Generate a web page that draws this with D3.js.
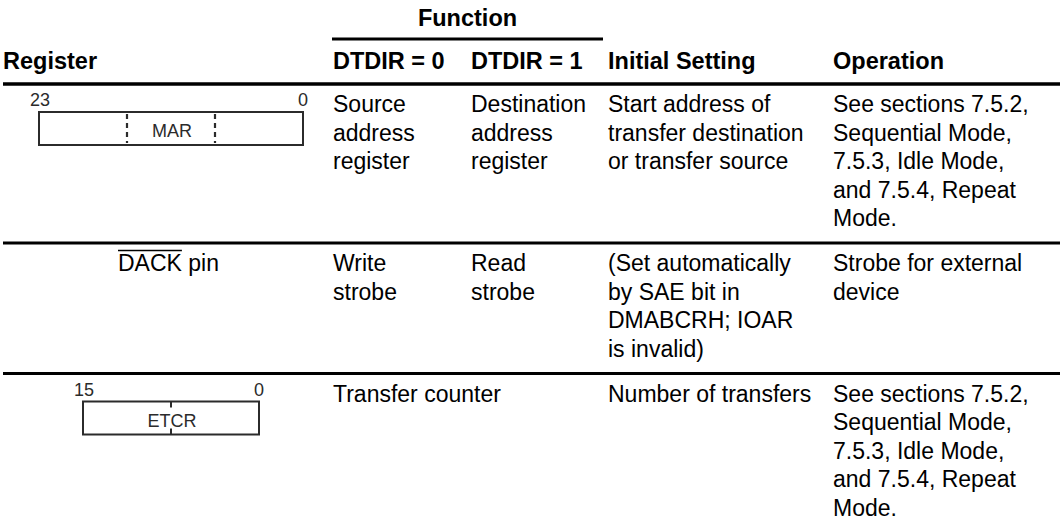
<!DOCTYPE html>
<html><head><meta charset="utf-8">
<script src="https://cdn.jsdelivr.net/npm/d3@7"></script>
<style>
body{margin:0;background:#fff}
svg{display:block}
text{font-family:"Liberation Sans",Arial,Helvetica,sans-serif}
</style>
</head><body>
<svg id="c" width="1060" height="530"></svg>
<script>
// ---- data ----
const groupHeader = "Function";
const columnKeys = ["register", "dtdir0", "dtdir1", "initial", "operation"];
const columnHeaders = ["Register", "DTDIR = 0", "DTDIR = 1", "Initial Setting", "Operation"];
const registerNames = ["MAR", "DACK pin", "ETCR"];
const registerBits = [[23, 0], null, [15, 0]];
const registerDashes = [[16, 8], [], []];
const registerTicks = [[], [], [8]];
const dtdir0Text = [["Source", "address", "register"], ["Write", "strobe"], ["Transfer counter"]];
const dtdir1Text = [["Destination", "address", "register"], ["Read", "strobe"], []];
const initialText = [
  ["Start address of", "transfer destination", "or transfer source"],
  ["(Set automatically", "by SAE bit in", "DMABCRH; IOAR", "is invalid)"],
  ["Number of transfers"]
];
const operationText = [
  ["See sections 7.5.2,", "Sequential Mode,", "7.5.3, Idle Mode,", "and 7.5.4, Repeat", "Mode."],
  ["Strobe for external", "device"],
  ["See sections 7.5.2,", "Sequential Mode,", "7.5.3, Idle Mode,", "and 7.5.4, Repeat", "Mode."]
];

// ---- layout ----
const svg = d3.select("#c");
const W = 1060;
const colX = d3.scaleOrdinal(columnKeys, [3, 333, 471, 608, 833]);
const lineY = d3.scaleLinear().domain([0, 1]).range([28, 56.5]); // baseline offset inside a row
const headerLineY = 84;
const rowPadBottom = 17;

const cells = registerNames.map((name, i) => ({
  name, bits: registerBits[i], dashes: registerDashes[i], ticks: registerTicks[i],
  cols: { dtdir0: dtdir0Text[i], dtdir1: dtdir1Text[i], initial: initialText[i], operation: operationText[i] }
}));
let yAcc = headerLineY;
cells.forEach(c => {
  const n = d3.max(Object.values(c.cols), a => a.length);
  c.top = yAcc;
  c.height = lineY(n - 1) + rowPadBottom;
  yAcc += c.height;
});

// ---- header ----
const fnX = d3.scaleLinear().domain([0, 1]).range([colX("dtdir0") - 1, colX("initial") - 5]);
svg.append("text").attr("x", (fnX(0) + fnX(1)) / 2).attr("y", 26)
  .attr("text-anchor", "middle").attr("font-weight", "bold").attr("font-size", 23.5)
  .text(groupHeader);
svg.append("line").attr("x1", fnX(0)).attr("x2", fnX(1)).attr("y1", 39).attr("y2", 39)
  .attr("stroke", "#000").attr("stroke-width", 3);
svg.selectAll("text.hdr").data(columnKeys).join("text").attr("class", "hdr")
  .attr("x", d => colX(d)).attr("y", 69).attr("font-weight", "bold").attr("font-size", 23.5)
  .text((d, i) => columnHeaders[i]);
svg.append("line").attr("x1", 3).attr("x2", W).attr("y1", headerLineY).attr("y2", headerLineY)
  .attr("stroke", "#000").attr("stroke-width", 3.5);

// ---- rows ----
const rows = svg.selectAll("g.row").data(cells).join("g").attr("class", "row")
  .attr("transform", d => `translate(0,${d.top})`);

// separators below rows (except last)
rows.filter((d, i) => i < cells.length - 1).append("line")
  .attr("x1", 3).attr("x2", W).attr("y1", d => d.height).attr("y2", d => d.height)
  .attr("stroke", "#000").attr("stroke-width", 3);

// text cells
["dtdir0", "dtdir1", "initial", "operation"].forEach(k => {
  rows.append("text").attr("font-size", 23).attr("fill", "#000")
    .selectAll("tspan").data(d => d.cols[k]).join("tspan")
    .attr("x", colX(k)).attr("y", (d, j) => lineY(j)).text(d => d);
});

// register diagrams
const diagColor = "#2b2b2b";
rows.each(function (d) {
  const g = d3.select(this);
  if (d.bits) {
    const nb = d.bits[0] - d.bits[1] + 1;
    const center = 171, bitW = 11;
    const bx = d3.scaleLinear().domain([nb, 0]).range([center - nb * bitW / 2, center + nb * bitW / 2]);
    const top = 28, h = 33;
    g.append("rect").attr("x", bx(nb)).attr("y", top).attr("width", bx(0) - bx(nb)).attr("height", h)
      .attr("fill", "none").attr("stroke", diagColor).attr("stroke-width", 2);
    g.append("text").attr("x", bx(nb) + 1).attr("y", 22).attr("text-anchor", "middle")
      .attr("font-size", 18).attr("fill", diagColor).text(d.bits[0]);
    g.append("text").attr("x", bx(0)).attr("y", 22).attr("text-anchor", "middle")
      .attr("font-size", 18).attr("fill", diagColor).text(d.bits[1]);
    g.selectAll("line.dash").data(d.dashes).join("line").attr("class", "dash")
      .attr("x1", b => bx(b)).attr("x2", b => bx(b)).attr("y1", top + 2).attr("y2", top + h - 2)
      .attr("stroke", diagColor).attr("stroke-width", 2.2).attr("stroke-dasharray", "5,4");
    d.ticks.forEach(b => {
      g.append("line").attr("x1", bx(b)).attr("x2", bx(b)).attr("y1", top).attr("y2", top + 6)
        .attr("stroke", diagColor).attr("stroke-width", 2);
      g.append("line").attr("x1", bx(b)).attr("x2", bx(b)).attr("y1", top + h - 6).attr("y2", top + h)
        .attr("stroke", diagColor).attr("stroke-width", 2);
    });
    g.append("text").attr("x", center + 1).attr("y", top + 25).attr("text-anchor", "middle")
      .attr("font-size", 18).attr("fill", diagColor).text(d.name);
  } else {
    const parts = d.name.split(" ");
    const t = g.append("text").attr("x", 168.5).attr("y", lineY(0)).attr("text-anchor", "middle")
      .attr("font-size", 23).attr("fill", "#000");
    t.append("tspan").text(parts[0]);
    t.append("tspan").text(" " + parts.slice(1).join(" "));
    // overline over the first word
    const node = t.node();
    const len0 = node.getSubStringLength(0, parts[0].length);
    const start = node.getStartPositionOfChar(0).x;
    g.append("line").attr("x1", start).attr("x2", start + len0)
      .attr("y1", lineY(0) - 20.5).attr("y2", lineY(0) - 20.5)
      .attr("stroke", "#000").attr("stroke-width", 1.5);
  }
});
</script>
</body></html>
